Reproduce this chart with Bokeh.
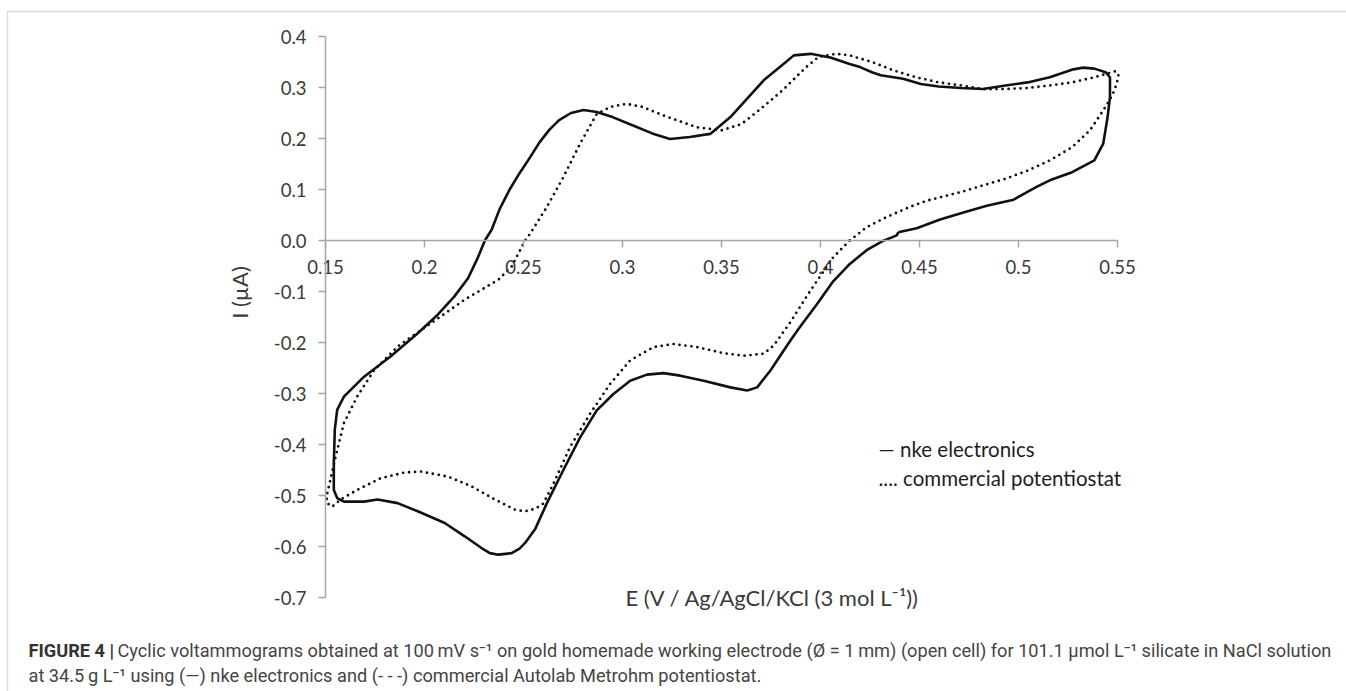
from math import pi
from bokeh.plotting import figure
from bokeh.models import (Range1d, FixedTicker, PrintfTickFormatter, CustomJSTickFormatter, Label,
                          BoxAnnotation)
from bokeh.embed import file_html
from bokeh.resources import INLINE

# ---- data (E in V, I in microamps) ----
nke_E = [0.4393, 0.4486, 0.4604, 0.4739, 0.4840, 0.4975, 0.5091, 0.5158, 0.5271, 0.5383,
         0.5428, 0.5450, 0.5462, 0.5462, 0.5440, 0.5383, 0.5327, 0.5270, 0.5158, 0.5046,
         0.4934, 0.4821, 0.4709, 0.4597, 0.4507, 0.4417, 0.4304, 0.4260, 0.4200, 0.4147,
         0.4050, 0.3950, 0.3865, 0.3810, 0.3713, 0.3545, 0.3443, 0.3340, 0.3240, 0.3150,
         0.3050, 0.2950, 0.2870, 0.2803, 0.2740, 0.2680, 0.2630, 0.2580, 0.2533, 0.2480,
         0.2430, 0.2380, 0.2339, 0.2305, 0.2270, 0.2220, 0.2150, 0.2068, 0.1966, 0.1830,
         0.1695, 0.1593, 0.1559, 0.1547, 0.1542, 0.1542, 0.1559, 0.1593, 0.1695, 0.1763,
         0.1864, 0.1966, 0.2102, 0.2203, 0.2288, 0.2330, 0.2373, 0.2440, 0.2480, 0.2508,
         0.2560, 0.2617, 0.2700, 0.2786, 0.2870, 0.2954, 0.3039, 0.3123, 0.3207, 0.3292,
         0.3410, 0.3545, 0.3630, 0.3680, 0.3747, 0.3848, 0.3895, 0.3980, 0.4064, 0.4148,
         0.4233, 0.4309, 0.4385, 0.4393]
nke_I = [0.016, 0.024, 0.041, 0.057, 0.068, 0.080, 0.105, 0.118, 0.134, 0.157,
         0.190, 0.242, 0.281, 0.320, 0.330, 0.337, 0.339, 0.335, 0.320, 0.310,
         0.304, 0.297, 0.299, 0.302, 0.307, 0.317, 0.324, 0.330, 0.340, 0.346,
         0.359, 0.366, 0.363, 0.345, 0.314, 0.242, 0.209, 0.203, 0.199, 0.210,
         0.226, 0.242, 0.252, 0.256, 0.250, 0.236, 0.217, 0.192, 0.163, 0.132,
         0.100, 0.062, 0.021, 0.000, -0.033, -0.074, -0.110, -0.145, -0.182, -0.227,
         -0.267, -0.306, -0.332, -0.371, -0.437, -0.489, -0.505, -0.512, -0.512, -0.508,
         -0.515, -0.531, -0.554, -0.580, -0.603, -0.613, -0.616, -0.613, -0.604, -0.593,
         -0.565, -0.516, -0.451, -0.386, -0.333, -0.301, -0.275, -0.263, -0.260, -0.265,
         -0.275, -0.288, -0.294, -0.288, -0.255, -0.196, -0.170, -0.126, -0.080, -0.046,
         -0.019, -0.002, 0.010, 0.016]

com_E = [0.4148, 0.4233, 0.4334, 0.4452, 0.4536, 0.4597, 0.4709, 0.4821, 0.4934, 0.5046,
         0.5158, 0.5271, 0.5361, 0.5428, 0.5473, 0.5496, 0.5505, 0.5490, 0.5383, 0.5271,
         0.5158, 0.5046, 0.4934, 0.4821, 0.4709, 0.4597, 0.4484, 0.4372, 0.4260, 0.4147,
         0.4080, 0.3990, 0.3922, 0.3810, 0.3698, 0.3600, 0.3500, 0.3376, 0.3207, 0.3100,
         0.3020, 0.2940, 0.2870, 0.2786, 0.2701, 0.2617, 0.2533, 0.2508, 0.2492, 0.2440,
         0.2373, 0.2203, 0.2034, 0.1864, 0.1746, 0.1660, 0.1593, 0.1551, 0.1525, 0.1505,
         0.1508, 0.1534, 0.1576, 0.1660, 0.1780, 0.1898, 0.1983, 0.2119, 0.2237, 0.2356,
         0.2458, 0.2508, 0.2560, 0.2600, 0.2651, 0.2735, 0.2836, 0.2938, 0.3039, 0.3157,
         0.3258, 0.3376, 0.3511, 0.3612, 0.3713, 0.3764, 0.3848, 0.3946, 0.3997, 0.4064,
         0.4148]
com_I = [0.000, 0.026, 0.046, 0.066, 0.078, 0.084, 0.095, 0.108, 0.121, 0.137,
         0.157, 0.183, 0.216, 0.255, 0.284, 0.307, 0.325, 0.332, 0.320, 0.310,
         0.304, 0.299, 0.297, 0.297, 0.304, 0.310, 0.320, 0.333, 0.350, 0.363,
         0.366, 0.360, 0.338, 0.295, 0.258, 0.228, 0.216, 0.222, 0.245, 0.262,
         0.268, 0.262, 0.248, 0.190, 0.124, 0.065, 0.013, 0.000, -0.012, -0.051,
         -0.077, -0.116, -0.162, -0.208, -0.254, -0.306, -0.358, -0.424, -0.469, -0.502,
         -0.515, -0.522, -0.508, -0.489, -0.466, -0.455, -0.453, -0.463, -0.482, -0.508,
         -0.528, -0.531, -0.526, -0.516, -0.477, -0.405, -0.340, -0.281, -0.235, -0.209,
         -0.203, -0.209, -0.221, -0.226, -0.222, -0.206, -0.160, -0.100, -0.071, -0.033,
         0.000]

x_ticks = [0.15, 0.2, 0.25, 0.3, 0.35, 0.4, 0.45, 0.5, 0.55]
y_ticks = [0.4, 0.3, 0.2, 0.1, 0.0, -0.1, -0.2, -0.3, -0.4, -0.5, -0.6, -0.7]

x_title = "E (V / Ag/AgCl/KCl (3 mol L\u207b\u00b9))"
y_title = "I (\u00b5A)"
legend_lines = ["\u2014  nke electronics", ".... commercial potentiostat"]
caption_bold = "FIGURE 4 |"
caption_1 = ("Cyclic voltammograms obtained at 100\u2009mV s\u207b\u00b9 on gold homemade working electrode "
             "(\u00d8 = 1\u2009mm) (open cell) for 101.1 \u00b5mol L\u207b\u00b9 silicate in NaCl solution")
caption_2 = ("at 34.5\u2009g L\u207b\u00b9 using (\u2014) nke electronics and (- - -) commercial Autolab "
             "Metrohm potentiostat.")

# ---- layout: the frame fills the page; axes sit at fixed data locations ----
W, H = 1346, 691
PX_X0, PX_X1 = 325.0, 1117.0      # page x of E = 0.15 and E = 0.55
PX_Y0, PX_Y1 = 36.0, 597.0        # page y of I = 0.4 and I = -0.7
sx = (PX_X1 - PX_X0) / (x_ticks[-1] - x_ticks[0])
sy = (PX_Y1 - PX_Y0) / (y_ticks[0] - y_ticks[-1])
xa = x_ticks[0] - PX_X0 / sx
yb = y_ticks[0] + PX_Y0 / sy


def dx(px):
    return xa + px / sx


def dy(py):
    return yb - py / sy


AX = "#a6a6a6"
TXT = "#3a3a3a"

p = figure(width=W, height=H, x_range=Range1d(xa, xa + W / sx), y_range=Range1d(yb - H / sy, yb),
           output_backend="svg", toolbar_location=None, min_border=0)
p.outline_line_color = None
p.grid.visible = False
p.background_fill_color = "white"
p.border_fill_color = "white"

for ax in (p.xaxis[0], p.yaxis[0]):
    ax.axis_line_color = AX
    ax.axis_line_width = 1.5
    ax.major_tick_line_color = AX
    ax.major_tick_line_width = 1.5
    ax.major_tick_in = 0
    ax.major_tick_out = 7
    ax.minor_tick_line_color = None
    ax.major_label_text_font = "Lato"
    ax.major_label_text_font_size = "18.5px"
    ax.major_label_text_color = TXT

p.xaxis.fixed_location = 0
p.xaxis.bounds = (x_ticks[0], x_ticks[-1])
p.xaxis.ticker = FixedTicker(ticks=x_ticks)
p.xaxis.formatter = CustomJSTickFormatter(code="return String(Math.round(tick*100)/100);")
p.xaxis.major_label_standoff = 12
p.yaxis.fixed_location = x_ticks[0]
p.yaxis.bounds = (y_ticks[-1], y_ticks[0])
p.yaxis.ticker = FixedTicker(ticks=y_ticks)
p.yaxis.formatter = PrintfTickFormatter(format="%.1f")
p.yaxis.major_label_standoff = 12

# outer frame of the figure panel (its right and bottom edges lie beyond the page)
p.add_layout(BoxAnnotation(left=dx(7), top=dy(11), right=dx(1352), bottom=dy(700),
                           fill_alpha=0, line_color="#8c8c8c", line_width=1.5, level="underlay"))

p.line(nke_E, nke_I, line_color="#111111", line_width=2.6, line_join="round")
p.line(com_E, com_I, line_color="#111111", line_width=2.8, line_dash="0 6", line_cap="round")


def lab(px, py, text, size, color=TXT, align="left", angle=0, style="normal", font="Lato"):
    p.add_layout(Label(x=dx(px), y=dy(py), text=text, text_font=font, text_font_size=size,
                       text_color=color, text_align=align, text_baseline="middle",
                       angle=angle, text_font_style=style))


lab(239, 292, y_title, "22px", align="center", angle=pi / 2)
lab(772, 597, x_title, "22px", align="center")
lab(878, 448, legend_lines[0], "20.5px", color="#1e1e1e")
lab(878, 477, legend_lines[1], "20.5px", color="#1e1e1e")
lab(28, 650, caption_bold, "18.2px", color="#333333", style="bold", font="Roboto")
lab(117, 650, caption_1, "18.2px", color="#444444", font="Roboto")
lab(28, 675, caption_2, "18.2px", color="#444444", font="Roboto")

open("out.html", "w").write(file_html(p, INLINE))
